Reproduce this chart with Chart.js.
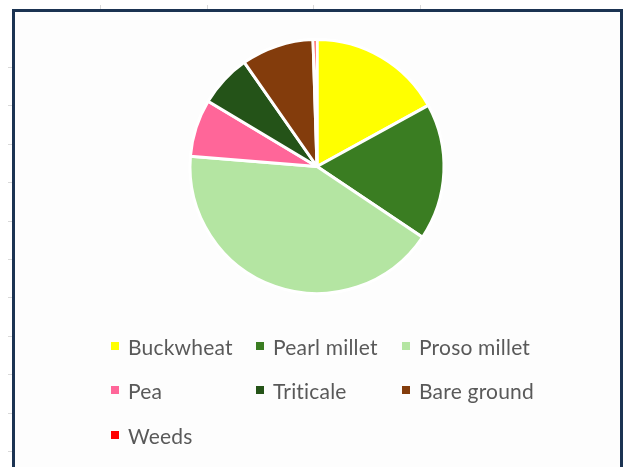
<!DOCTYPE html>
<html>
<head>
<meta charset="utf-8">
<script src="https://cdn.jsdelivr.net/npm/chart.js@4.4.1/dist/chart.umd.min.js"></script>
<style>
  html, body { margin: 0; padding: 0; background: #ffffff; }
  body { width: 624px; height: 467px; position: relative; overflow: hidden; font-family: Lato, "Open Sans", sans-serif; }
  #frame { position: absolute; left: 12px; top: 9px; width: 605px; height: 480px; border: 3px solid #1b3352; background: #fdfdfd; }
  #wrap { position: absolute; left: 0; top: 0; width: 624px; height: 467px; }
  .tick { position: absolute; background: #d9d9d9; }
  #legend { position: absolute; left: 0; top: 0; width: 624px; height: 467px; pointer-events: none; }
  .item { position: absolute; display: flex; align-items: center; color: #595959; font-size: 21px; letter-spacing: 0.2px; white-space: nowrap; height: 26px; }
  .box { width: 8px; height: 8px; margin-right: 9px; flex: none; }
</style>
</head>
<body>
<div id="frame"></div>
<div id="wrap"><canvas id="c" width="624" height="467"></canvas></div>
<div id="legend"></div>
<script>
// Ground cover composition (% of area)
const categories = ["Buckwheat", "Pearl millet", "Proso millet", "Pea", "Triticale", "Bare ground", "Weeds"];
const coverPct = [17.0, 17.4, 41.9, 7.3, 6.7, 9.2, 0.5];
const sliceColors = ["#ffff00", "#3a7d22", "#b4e5a2", "#ff6699", "#245318", "#833c0c", "#ff0000"];

// faint sheet grid ticks around the frame
(function () {
  const body = document.body;
  [100, 207, 313, 420].forEach(x => {
    const d = document.createElement('div');
    d.className = 'tick';
    d.style.cssText = `left:${x}px;top:5px;width:1px;height:4px;`;
    body.appendChild(d);
  });
  for (let i = 0; i < 11; i++) {
    const y = Math.round(67 + i * 38.4);
    const d = document.createElement('div');
    d.className = 'tick';
    d.style.cssText = `left:8px;top:${y}px;width:4px;height:1px;`;
    body.appendChild(d);
  }
})();

const chart = new Chart(document.getElementById('c'), {
  type: 'pie',
  data: {
    labels: categories,
    datasets: [{
      data: coverPct,
      backgroundColor: sliceColors,
      borderColor: '#ffffff',
      borderWidth: 3
    }]
  },
  options: {
    responsive: false,
    animation: false,
    layout: { padding: { top: 38, bottom: 172, left: 10, right: 0 } },
    plugins: {
      legend: { display: false },
      tooltip: { enabled: false }
    }
  }
});

// three-column legend built from the chart's own label items
const cols = [111, 256, 402];
const rows = [346, 390, 435];
const legend = document.getElementById('legend');
chart.options.plugins.legend.labels.generateLabels(chart).forEach((it, i) => {
  const el = document.createElement('div');
  el.className = 'item';
  el.style.left = cols[i % 3] + 'px';
  el.style.top = (rows[Math.floor(i / 3)] - 13) + 'px';
  const b = document.createElement('span');
  b.className = 'box';
  b.style.background = it.fillStyle;
  const t = document.createElement('span');
  t.textContent = it.text;
  el.appendChild(b);
  el.appendChild(t);
  legend.appendChild(el);
});
</script>
</body>
</html>
